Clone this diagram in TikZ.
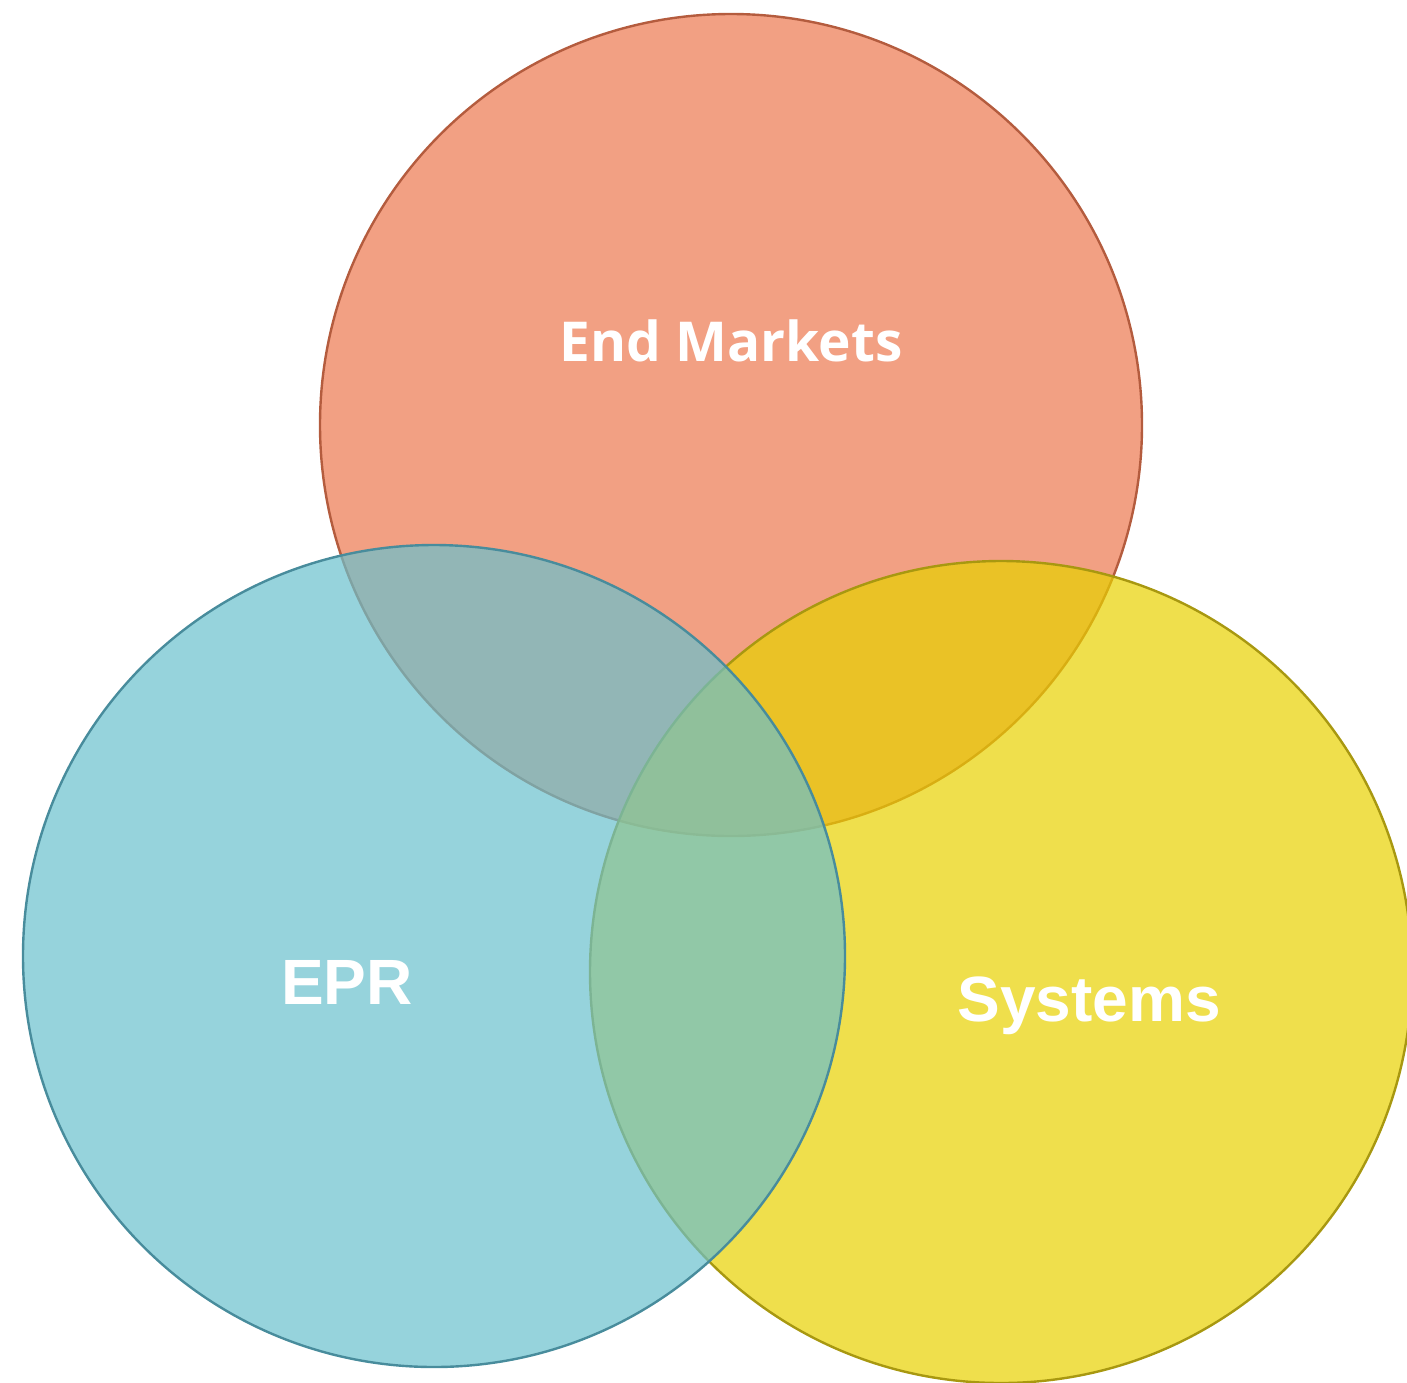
\documentclass[tikz,border=0pt]{standalone}
\usepackage{fontspec}
\newfontfamily\armain{Liberation Sans}
\newfontfamily\srcfont{Open Sans}
\definecolor{emfill}{RGB}{236,119,78}
\definecolor{emline}{RGB}{180,92,62}
\definecolor{eprfill}{RGB}{106,192,205}
\definecolor{eprline}{RGB}{72,140,156}
\definecolor{sysfill}{RGB}{232,209,0}
\definecolor{sysline}{RGB}{168,152,16}
\begin{document}
\begin{tikzpicture}[x=0.5pt,y=-0.5pt,
  venn/.style={circle,inner sep=0pt,minimum size=411pt,line width=1.2pt,fill opacity=0.7},
  lbl/.style={text=white,inner sep=0pt,anchor=base}]
\useasboundingbox (0,0) rectangle (1407,1382);
\node[venn,fill=emfill,draw=emline] (em) at (731,425) {};
\node[venn,fill=sysfill,draw=sysline] (sys) at (1001,972) {};
\node[venn,fill=eprfill,draw=eprline] (epr) at (434,956) {};
\node[lbl,font=\srcfont\bfseries\fontsize{27.5}{32}\selectfont] (temv) at (731,361) {End Markets};
\node[lbl,font=\armain\bfseries\fontsize{32}{36}\selectfont] (tepr) at (347,1004) {EPR};
\node[lbl,font=\armain\bfseries\fontsize{32}{36}\selectfont] (tsys) at (1089,1021) {Systems};
\end{tikzpicture}
\end{document}
